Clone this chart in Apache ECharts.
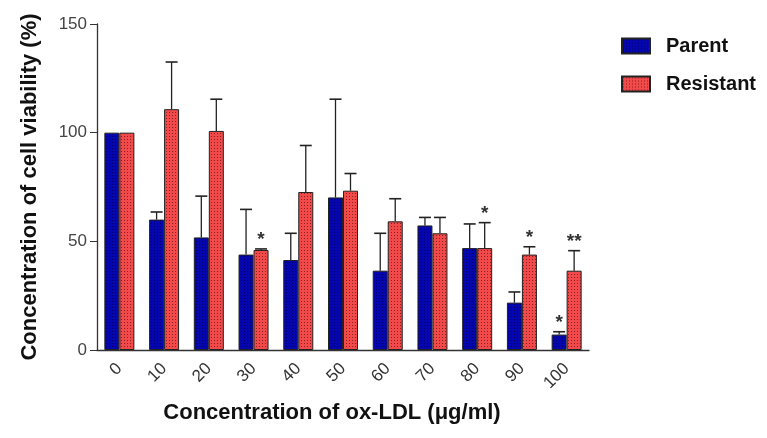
<!DOCTYPE html>
<html>
<head>
<meta charset="utf-8">
<script src="https://cdn.jsdelivr.net/npm/echarts@6/dist/echarts.min.js"></script>
<style>
html,body{margin:0;padding:0;background:#fff;}
#chart{width:767px;height:438px;}
</style>
</head>
<body>
<div id="chart"></div>
<script>
var categories = ['0','10','20','30','40','50','60','70','80','90','100'];
var parentValues = [100, 60, 51.8, 43.9, 41.4, 70.2, 36.5, 57.3, 46.9, 21.8, 7.1];
var parentErrors = [0, 3.5, 19, 20.8, 12.3, 45.2, 17.2, 3.7, 11.1, 4.9, 1.3];
var resistantValues = [100, 110.8, 100.8, 46.0, 72.7, 73.3, 59.2, 53.7, 46.9, 43.9, 36.5];
var resistantErrors = [0, 21.7, 14.6, 0.5, 21.4, 7.9, 10.4, 7.3, 11.7, 3.6, 9.2];
var parentSig = ['', '', '', '', '', '', '', '', '', '', '*'];
var resistantSig = ['', '', '', '*', '', '', '', '', '*', '*', '**'];
var yTicks = [0, 50, 100, 150];

function makePattern(bg, dot) {
  var c = document.createElement('canvas');
  c.width = 3; c.height = 3;
  var ctx = c.getContext('2d');
  ctx.fillStyle = bg; ctx.fillRect(0, 0, 3, 3);
  ctx.fillStyle = dot; ctx.fillRect(1, 1, 1, 1);
  return c;
}
var bluePat = {image: makePattern('#0606ae', '#00006a'), repeat: 'repeat'};
var redPat = {image: makePattern('#f24a4a', '#8a2020'), repeat: 'repeat'};

var BAR_W = 15;

function errRender(values, errors, sig, offset) {
  return function (params, api) {
    var i = params.dataIndex;
    var base = api.coord([i, values[i]]);
    var top = api.coord([i, values[i] + errors[i]]);
    var x = base[0] + offset;
    var children = [];
    if (errors[i] > 0) {
      children.push({type: 'line', shape: {x1: x, y1: base[1], x2: x, y2: top[1]}, style: {stroke: '#222', lineWidth: 1.3}});
      children.push({type: 'line', shape: {x1: x - 6, y1: top[1], x2: x + 6, y2: top[1]}, style: {stroke: '#222', lineWidth: 1.6}});
    }
    if (sig[i]) {
      children.push({type: 'text', style: {text: sig[i], x: x, y: top[1] - 9, textAlign: 'center', textVerticalAlign: 'middle', font: 'bold 19px Arial', fill: '#333'}});
    }
    return {type: 'group', children: children};
  };
}

var chart = echarts.init(document.getElementById('chart'), null, {renderer: 'canvas'});
chart.setOption({
  animation: false,
  backgroundColor: '#fff',
  grid: {left: 97, right: 178, top: 24, bottom: 88},
  legend: {
    orient: 'vertical', left: 616, top: 31, itemWidth: 28, itemHeight: 15, itemGap: 18, icon: 'rect',
    textStyle: {fontFamily: 'Arial', fontWeight: 'bold', fontSize: 20, color: '#111', padding: [0, 0, 0, 11]},
    data: [{name: 'Parent'}, {name: 'Resistant'}]
  },
  xAxis: {
    type: 'category', data: categories,
    name: 'Concentration of ox-LDL (μg/ml)', nameLocation: 'middle', nameGap: 52,
    nameTextStyle: {fontFamily: 'Arial', fontWeight: 'bold', fontSize: 22, color: '#111', padding: [0, 22, 0, 0]},
    axisLine: {lineStyle: {color: '#333', width: 1.3}},
    axisTick: {alignWithLabel: true, length: 6, lineStyle: {color: '#333'}},
    axisLabel: {rotate: 45, fontFamily: 'Arial', fontSize: 17, color: '#333', margin: 16}
  },
  yAxis: {
    type: 'value', min: 0, max: 150, interval: 50,
    name: 'Concentration of cell viability (%)', nameLocation: 'middle', nameGap: 56,
    nameTextStyle: {fontFamily: 'Arial', fontWeight: 'bold', fontSize: 22, color: '#111'},
    axisLine: {show: true, lineStyle: {color: '#333', width: 1.3}},
    axisTick: {show: true, length: 7, lineStyle: {color: '#333'}},
    splitLine: {show: false},
    axisLabel: {fontFamily: 'Arial', fontSize: 17, color: '#444', margin: 10,
      formatter: function (v) { return yTicks.indexOf(v) >= 0 ? String(v) : ''; }}
  },
  series: [
    {name: 'Parent', type: 'bar', data: parentValues, barWidth: BAR_W, barGap: '0%',
      itemStyle: {color: bluePat, borderColor: '#222', borderWidth: 1}},
    {name: 'Resistant', type: 'bar', data: resistantValues, barWidth: BAR_W, barGap: '0%',
      itemStyle: {color: redPat, borderColor: '#222', borderWidth: 1}},
    {type: 'custom', data: parentValues, renderItem: errRender(parentValues, parentErrors, parentSig, -BAR_W / 2), z: 5},
    {type: 'custom', data: resistantValues, renderItem: errRender(resistantValues, resistantErrors, resistantSig, BAR_W / 2), z: 5}
  ]
});
</script>
</body>
</html>
